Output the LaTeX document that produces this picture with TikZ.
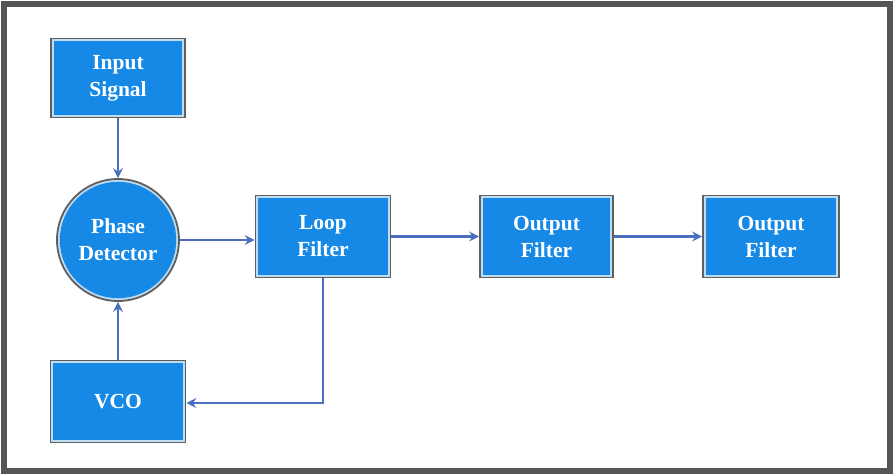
\documentclass[tikz,border=0pt]{standalone}
\usepackage{fontspec}
\setmainfont{Liberation Serif}
\usetikzlibrary{arrows.meta}
\definecolor{boxblue}{RGB}{22,137,230}
\definecolor{boxedge}{RGB}{95,95,95}
\definecolor{boxlight}{RGB}{190,220,242}
\definecolor{arrowblue}{RGB}{75,110,190}
\definecolor{frame}{RGB}{85,85,85}
\tikzset{
  blkbase/.style={draw=boxedge, line width=1.8pt, fill=boxlight, text=white,
    font=\fontsize{21.5}{27}\selectfont\bfseries, align=center, inner sep=0pt},
  blk/.style={blkbase, path picture={\fill[boxblue]
      ([shift={(2.8pt,-2.8pt)}]path picture bounding box.north west) rectangle
      ([shift={(-2.8pt,2.8pt)}]path picture bounding box.south east);}},
  blkc/.style={blkbase, circle, minimum size=122pt, path picture={\fill[boxblue]
      (path picture bounding box.center) circle[radius=58.2pt];}},
  conn/.style={draw=arrowblue, line width=2.4pt, -{Stealth[length=10pt,width=10pt,inset=3.5pt]}},
}
\begin{document}
\begin{tikzpicture}[x=1pt,y=-1pt]
\useasboundingbox (0,0) rectangle (893,475);
\draw[frame, line width=6pt] (3.5,3.5) rectangle (889.5,471);
\node[blk, minimum width=134pt, minimum height=79pt] (in) at (118,78) {Input\\Signal};
\node[blkc] (pd) at (118,240) {Phase\\Detector};
\node[blk, minimum width=135pt, minimum height=82pt] (lf) at (323,236.5) {Loop\\Filter};
\node[blk, minimum width=133pt, minimum height=82pt] (of1) at (546.5,236.5) {Output\\Filter};
\node[blk, minimum width=136pt, minimum height=82pt] (of2) at (771,236.5) {Output\\Filter};
\node[blk, minimum width=135pt, minimum height=82pt] (vco) at (118,401.5) {VCO};
\coordinate (corner) at (323,403);
\draw[conn] (in.south) -- (pd.north);
\draw[conn] (vco.north) -- (pd.south);
\draw[conn] (pd.east) -- (pd.east -| lf.west);
\draw[conn] (lf.east) -- (of1.west);
\draw[conn] (of1.east) -- (of2.west);
\draw[conn] (lf.south) -- (corner) -- (corner -| vco.east);
\end{tikzpicture}
\end{document}
